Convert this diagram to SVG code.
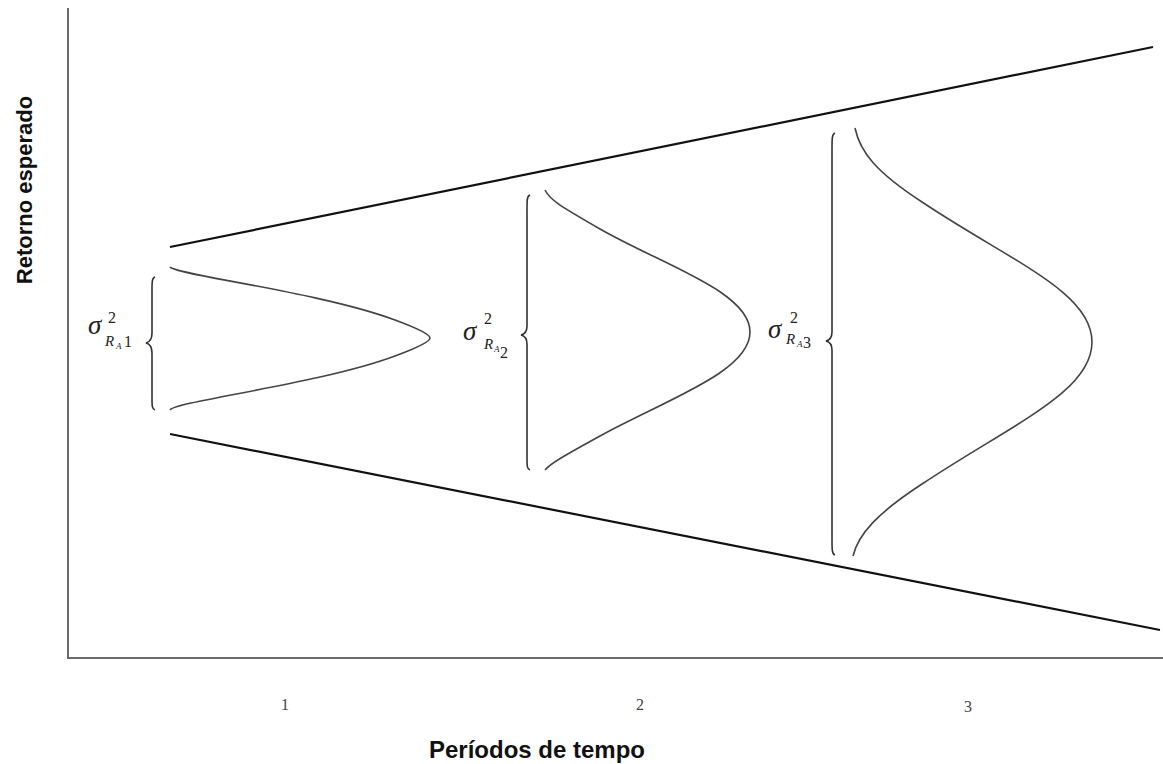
<svg xmlns="http://www.w3.org/2000/svg" width="1163" height="764" viewBox="0 0 1163 764">
<style>
.axis{stroke:#6a6a6a;stroke-width:2;fill:none}
.bound{stroke:#111;stroke-width:2.2;fill:none}
.curve{stroke:#444;stroke-width:1.6;fill:none}
.brace{stroke:#333;stroke-width:1.6;fill:none}
.ax{font-family:"Liberation Sans",Arial,sans-serif;font-weight:bold;font-size:22px;fill:#111}
.tick{font-family:"Liberation Serif","Times New Roman",serif;font-size:16px;fill:#444}
.sig{font-family:"Liberation Serif","Times New Roman",serif;font-style:italic;fill:#222}
.num{font-family:"Liberation Serif","Times New Roman",serif;fill:#222}
</style>
<rect width="1163" height="764" fill="#fff"/>
<g id="axes">
<line class="axis" x1="68" y1="8" x2="68" y2="658"/>
<line class="axis" x1="67" y1="658" x2="1163" y2="658"/>
<text class="ax" transform="translate(32,190) rotate(-90)" text-anchor="middle">Retorno esperado</text>
<text class="ax" x="537" y="758" style="font-size:24px" text-anchor="middle">Períodos de tempo</text>
<text class="tick" x="285" y="710" text-anchor="middle">1</text>
<text class="tick" x="640" y="710" text-anchor="middle">2</text>
<text class="tick" x="968" y="712" text-anchor="middle">3</text>
</g>
<g id="connectors">
<line class="bound" x1="170" y1="247" x2="1153" y2="47"/>
<line class="bound" x1="170" y1="434" x2="1160" y2="630"/>
</g>
<g id="dist1">
<path class="curve" d="M170,267 C176,275 320,292 395,320 C422,330 430,335 430,338 C430,341 422,346 395,356 C320,384 176,401 170,410"/>
<path class="brace" d="M155,277 C152,278 152,282 152,290 L152,333 C152,339 150,342 146,343 C150,344 152,347 152,353 L152,398 C152,406 152,409 155,410"/>
<text class="sig" x="88" y="334" font-size="27">σ</text>
<text class="num" x="108" y="323" font-size="16">2</text>
<text class="sig" x="105" y="346" font-size="15">R</text>
<text class="sig" x="116" y="349" font-size="9">A</text>
<text class="num" x="124" y="347" font-size="16">1</text>
</g>
<g id="dist2">
<path class="curve" d="M545,190 C550,200 560,206 600,229 C665,266 750,292 750,332 C750,372 665,400 600,436 C560,458 550,464 545,470"/>
<path class="brace" d="M530,195 C527,196 527,200 527,210 L527,326 C527,331 525,334 521,335 C525,336 527,339 527,344 L527,458 C527,466 527,469 530,470"/>
<text class="sig" x="463" y="340" font-size="27">σ</text>
<text class="num" x="484" y="324" font-size="16">2</text>
<text class="sig" x="484" y="349" font-size="15">R</text>
<text class="sig" x="494" y="352" font-size="9">A</text>
<text class="num" x="500" y="358" font-size="16">2</text>
</g>
<g id="dist3">
<path class="curve" d="M855,128 C860,152 876,172 922,202 C1012,262 1092,292 1092,342 C1092,392 1012,424 922,484 C876,514 858,535 853,556"/>
<path class="brace" d="M835,133 C832,134 832,138 832,150 L832,332 C832,337 830,340 826,341 C830,342 832,345 832,350 L832,540 C832,550 832,554 835,555"/>
<text class="sig" x="768" y="338" font-size="27">σ</text>
<text class="num" x="790" y="323" font-size="16">2</text>
<text class="sig" x="786" y="344" font-size="15">R</text>
<text class="sig" x="797" y="347" font-size="9">A</text>
<text class="num" x="803" y="348" font-size="16">3</text>
</g>
</svg>
